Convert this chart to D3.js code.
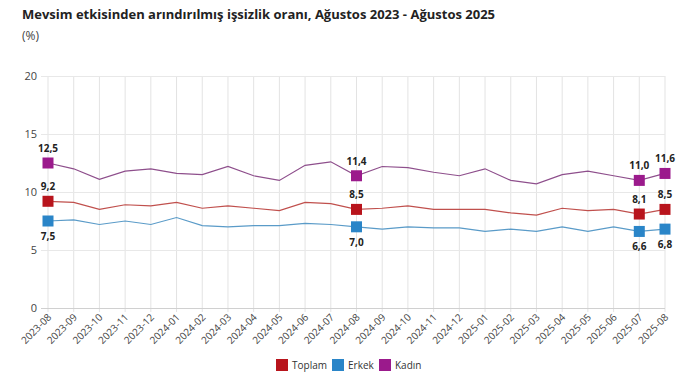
<!DOCTYPE html>
<html><head><meta charset="utf-8">
<script src="https://cdn.jsdelivr.net/npm/d3@7"></script>
<style>
body{margin:0;background:#fff;font-family:"Open Sans","Noto Sans",sans-serif;}
</style></head>
<body><svg id="c" width="699" height="391"></svg>
<script>
const months = ["2023-08","2023-09","2023-10","2023-11","2023-12","2024-01","2024-02","2024-03","2024-04","2024-05","2024-06","2024-07","2024-08","2024-09","2024-10","2024-11","2024-12","2025-01","2025-02","2025-03","2025-04","2025-05","2025-06","2025-07","2025-08"];
const toplam = [9.2,9.1,8.5,8.9,8.8,9.1,8.6,8.8,8.6,8.4,9.1,9.0,8.5,8.6,8.8,8.5,8.5,8.5,8.2,8.0,8.6,8.4,8.5,8.1,8.5];
const erkek  = [7.5,7.6,7.2,7.5,7.2,7.8,7.1,7.0,7.1,7.1,7.3,7.2,7.0,6.8,7.0,6.9,6.9,6.6,6.8,6.6,7.0,6.6,7.0,6.6,6.8];
const kadin  = [12.5,12.0,11.1,11.8,12.0,11.6,11.5,12.2,11.4,11.0,12.3,12.6,11.4,12.2,12.1,11.7,11.4,12.0,11.0,10.7,11.5,11.8,11.4,11.0,11.6];
const yTicks = [0,5,10,15,20];
const highlighted = ["2023-08","2024-08","2025-07","2025-08"];
const seriesNames = ["Toplam","Erkek","Kadın"];
const colors = ["#b8141c","#2a85c8","#9b1a8c"];
const lineColors = ["#c0504d","#5a9bc8","#8e4f8c"];
const titleText = "Mevsim etkisinden arındırılmış işsizlik oranı, Ağustos 2023 - Ağustos 2025";
const unitText = "(%)";

const svg = d3.select("#c");
const x = d3.scalePoint().domain(months).range([48,665]);
const y = d3.scaleLinear().domain([0,20]).range([308,76]);

svg.append("text").attr("x",22).attr("y",19).attr("font-size",13).attr("font-weight","bold").attr("fill","#222").text(titleText);
svg.append("text").attr("x",22).attr("y",40).attr("font-size",12).attr("fill","#444").text(unitText);

// vertical grid
svg.append("g").selectAll("line").data(months).join("line")
  .attr("x1",d=>x(d)).attr("x2",d=>x(d)).attr("y1",76).attr("y2",312)
  .attr("stroke","#e3e3e3").attr("stroke-width",1);
// horizontal grid
svg.append("g").selectAll("line").data(yTicks).join("line")
  .attr("x1",41).attr("x2",665).attr("y1",d=>y(d)+0.5).attr("y2",d=>y(d)+0.5)
  .attr("stroke",d=>d===0?"#d0d0d0":"#e8e8e8").attr("stroke-width",1);
// y labels
svg.append("g").selectAll("text").data(yTicks).join("text")
  .attr("x",37).attr("y",d=>y(d)+4).attr("text-anchor","end")
  .attr("font-size",11).attr("fill","#444").text(d=>d);
// x labels
svg.append("g").selectAll("text").data(months).join("text")
  .attr("transform",d=>`translate(${x(d)+4},${318}) rotate(-45)`)
  .attr("text-anchor","end").attr("font-size",10).attr("fill","#444").text(d=>d);

const data = [toplam, erkek, kadin];
const line = d3.line().x((d,i)=>x(months[i])).y(d=>y(d));
data.forEach((vals,k)=>{
  svg.append("path").datum(vals).attr("d",line).attr("fill","none")
    .attr("stroke",lineColors[k]).attr("stroke-width",1.2);
});
const fmt = v => v.toFixed(1).replace(".",",");
data.forEach((vals,k)=>{
  const pts = months.map((m,i)=>({m,v:vals[i]})).filter(p=>highlighted.includes(p.m));
  svg.append("g").selectAll("rect").data(pts).join("rect")
    .attr("x",p=>x(p.m)-5.5).attr("y",p=>y(p.v)-5.5).attr("width",11).attr("height",11)
    .attr("fill",colors[k]);
  svg.append("g").selectAll("text").data(pts).join("text")
    .attr("x",p=>x(p.m)).attr("y",p=>k===1 ? y(p.v)+19 : y(p.v)-11)
    .attr("text-anchor","middle").attr("font-size",10).attr("font-weight","bold")
    .attr("fill","#222").text(p=>fmt(p.v));
});

// legend
const legX = [276,332,379];
seriesNames.forEach((n,k)=>{
  svg.append("rect").attr("x",legX[k]).attr("y",359).attr("width",12).attr("height",12).attr("fill",colors[k]);
  svg.append("text").attr("x",legX[k]+16).attr("y",369).attr("font-size",10).attr("fill","#333").text(n);
});
</script></body></html>
